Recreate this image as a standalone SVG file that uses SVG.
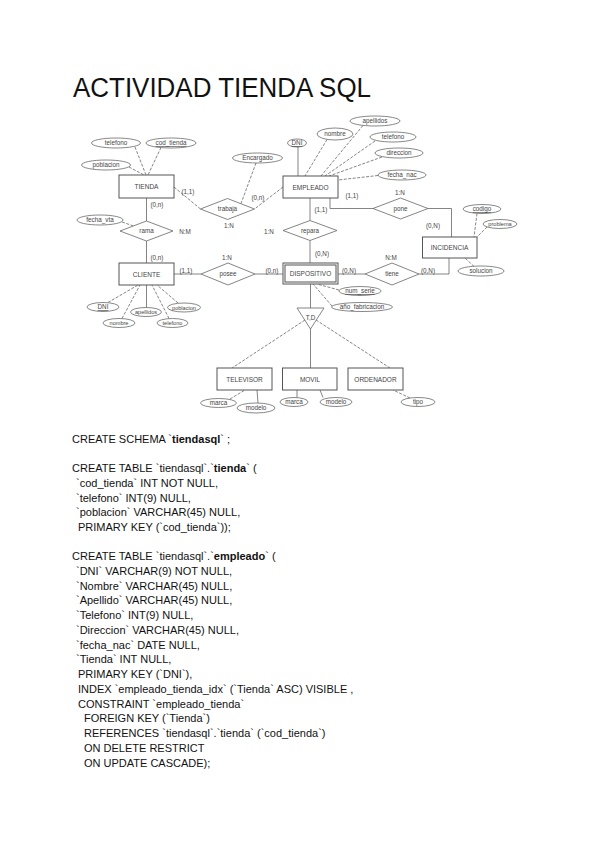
<svg xmlns="http://www.w3.org/2000/svg" width="600" height="848" viewBox="0 0 600 848">
<style>
.ent{fill:#fff;stroke:#555;stroke-width:1}
.rel{fill:#fff;stroke:#666;stroke-width:0.8}
.att{fill:#fff;stroke:#555;stroke-width:0.7}
.ln{stroke:#666;stroke-width:0.8;fill:none}
.dl{stroke-dasharray:3 1.5}
.t{font-family:"Liberation Sans",Arial,sans-serif;font-size:6.3px;fill:#444;text-anchor:middle}
.e{font-size:6.5px}
.s{font-size:5.6px}
.u{text-decoration:underline}
.sql{font-family:"Liberation Sans",Arial,sans-serif;font-size:11px;fill:#111}
.b{font-weight:bold}
</style>
<rect width="600" height="848" fill="#fff"/>
<text x="73" y="97" font-family="'Liberation Sans',Arial,sans-serif" font-size="27" fill="#111" textLength="298" lengthAdjust="spacingAndGlyphs">ACTIVIDAD TIENDA SQL</text>

<g id="connectors">
<line class="ln dl" x1="174" y1="187" x2="200.5" y2="209"/>
<line class="ln dl" x1="283" y1="187" x2="254.5" y2="209"/>
<line class="ln dl" x1="256" y1="163" x2="241" y2="203.5"/>
<line class="ln" x1="146.5" y1="198" x2="146.5" y2="221"/>
<line class="ln dl" x1="122" y1="222" x2="133.5" y2="226"/>
<line class="ln" x1="146.5" y1="241" x2="146.5" y2="263"/>
<line class="ln" x1="174" y1="274" x2="201" y2="274"/>
<line class="ln" x1="255" y1="274" x2="283" y2="274"/>
<line class="ln" x1="310" y1="198" x2="310" y2="220.5"/>
<line class="ln" x1="310" y1="240.5" x2="310" y2="263"/>
<polyline class="ln" points="330,198 330,208.5 373,208.5"/>
<polyline class="ln" points="428,208.5 451.5,208.5 451.5,237"/>
<line class="ln" x1="338" y1="274" x2="365" y2="274"/>
<polyline class="ln" points="419,274 449,274 449,258"/>
<line class="ln" x1="310.5" y1="284" x2="310.5" y2="308"/>
<line class="ln dl" x1="305" y1="320" x2="232" y2="368"/>
<line class="ln" x1="310.5" y1="329" x2="310.5" y2="368"/>
<line class="ln dl" x1="316" y1="320" x2="390" y2="368"/>
<line class="ln dl" x1="135" y1="147" x2="146" y2="175"/>
<line class="ln dl" x1="161" y1="147.5" x2="148" y2="175"/>
<line class="ln dl" x1="129" y1="167" x2="144" y2="175"/>
<line class="ln" x1="298" y1="147" x2="298" y2="176"/>
<line class="ln dl" x1="327" y1="139.5" x2="305" y2="176"/>
<line class="ln dl" x1="363" y1="125.5" x2="321" y2="176"/>
<line class="ln dl" x1="375" y1="141" x2="325" y2="176"/>
<line class="ln dl" x1="382" y1="157" x2="329" y2="176"/>
<line class="ln dl" x1="378" y1="175.5" x2="338" y2="180"/>
<line class="ln dl" x1="477" y1="213.5" x2="474" y2="237"/>
<line class="ln dl" x1="487" y1="227" x2="477" y2="237"/>
<line class="ln dl" x1="474" y1="266.5" x2="465" y2="258"/>
<line class="ln dl" x1="108" y1="302.5" x2="138" y2="285"/>
<line class="ln dl" x1="122" y1="318.5" x2="140" y2="285"/>
<line class="ln" x1="146.5" y1="307.5" x2="146.5" y2="285"/>
<line class="ln dl" x1="169" y1="318.5" x2="152" y2="285"/>
<line class="ln dl" x1="178" y1="303" x2="157" y2="285"/>
<line class="ln dl" x1="339" y1="290" x2="317" y2="284"/>
<line class="ln dl" x1="332" y1="306" x2="313" y2="284"/>
<line class="ln dl" x1="230" y1="399" x2="245" y2="390"/>
<line class="ln" x1="258" y1="403" x2="257" y2="390"/>
<line class="ln" x1="297" y1="397.5" x2="297" y2="390"/>
<line class="ln" x1="323" y1="397.5" x2="320" y2="390"/>
<line class="ln dl" x1="410" y1="398" x2="393" y2="390"/>
</g>

<g id="cardinalities" class="t">
<text x="188" y="194">(1,1)</text>
<text x="258" y="200">(0,n)</text>
<text x="229" y="228">1:N</text>
<text x="157" y="207">(0,n)</text>
<text x="185" y="234">N:M</text>
<text x="157" y="260">(0,n)</text>
<text x="227" y="260">1:N</text>
<text x="186" y="273">(1,1)</text>
<text x="272" y="273">(0,n)</text>
<text x="352" y="198">(1,1)</text>
<text x="321" y="212">(1,1)</text>
<text x="269" y="234">1:N</text>
<text x="322" y="256">(0,N)</text>
<text x="400" y="195">1:N</text>
<text x="433" y="228">(0,N)</text>
<text x="391" y="260">N:M</text>
<text x="349" y="273">(0,N)</text>
<text x="428" y="273">(0,N)</text>
</g>

<g id="tienda"><rect class="ent" x="119" y="175" width="55" height="23"/><text class="t e" x="146.5" y="189">TIENDA</text></g>
<g id="tienda-telefono"><ellipse class="att" cx="116" cy="143" rx="24.5" ry="5"/><text class="t" x="116" y="145.2">telefono</text></g>
<g id="tienda-cod_tienda"><ellipse class="att" cx="171" cy="143" rx="25" ry="5"/><text class="t u" x="171" y="145.2">cod_tienda</text></g>
<g id="tienda-poblacion"><ellipse class="att" cx="106" cy="165" rx="24.5" ry="5"/><text class="t" x="106" y="167.2">poblacion</text></g>

<g id="trabaja"><polygon class="rel" points="200.5,209 227.5,198.5 254.5,209 227.5,219.5"/><text class="t" x="227.5" y="211.2">trabaja</text></g>
<g id="encargado"><ellipse class="att" cx="257.5" cy="158" rx="25" ry="5"/><text class="t" x="257.5" y="160.2">Encargado</text></g>

<g id="rama"><polygon class="rel" points="120,231 146.5,221 173,231 146.5,241"/><text class="t" x="146.5" y="233.2">rama</text></g>
<g id="fecha_vta"><ellipse class="att" cx="100" cy="220" rx="23" ry="5"/><text class="t" x="100" y="222.2">fecha_vta</text></g>

<g id="empleado"><rect class="ent" x="283" y="176" width="55" height="22"/><text class="t e" x="310.5" y="189.5">EMPLEADO</text></g>
<g id="empleado-dni"><ellipse class="att" cx="297" cy="143" rx="9.5" ry="4"/><text class="t u" x="297" y="145.2">DNI</text></g>
<g id="empleado-nombre"><ellipse class="att" cx="335" cy="134" rx="18" ry="6"/><text class="t" x="335" y="136.2">nombre</text></g>
<g id="empleado-apellidos"><ellipse class="att" cx="375" cy="121" rx="25" ry="5"/><text class="t" x="375" y="123.2">apellidos</text></g>
<g id="empleado-telefono"><ellipse class="att" cx="393" cy="137" rx="23" ry="5"/><text class="t" x="393" y="139.2">telefono</text></g>
<g id="empleado-direccion"><ellipse class="att" cx="399" cy="153" rx="24" ry="5"/><text class="t" x="399" y="155.2">direccion</text></g>
<g id="empleado-fecha_nac"><ellipse class="att" cx="402" cy="175" rx="24" ry="5"/><text class="t" x="402" y="177.2">fecha_nac</text></g>

<g id="pone"><polygon class="rel" points="373,208.5 400.5,198 428,208.5 400.5,219"/><text class="t" x="400.5" y="210.7">pone</text></g>
<g id="repara"><polygon class="rel" points="283,230.5 310,220.5 337,230.5 310,240.5"/><text class="t" x="310" y="232.7">repara</text></g>

<g id="incidencia"><rect class="ent" x="422.5" y="237" width="54.5" height="21"/><text class="t e" x="449.5" y="249.5">INCIDENCIA</text></g>
<g id="incidencia-codigo"><ellipse class="att" cx="482" cy="209" rx="19" ry="4.5"/><text class="t u" x="482" y="211.2">codigo</text></g>
<g id="incidencia-problema"><ellipse class="att" cx="500" cy="224" rx="17" ry="4.5"/><text class="t s" x="500" y="226">problema</text></g>
<g id="incidencia-solucion"><ellipse class="att" cx="481" cy="271" rx="23" ry="5"/><text class="t" x="481" y="273.2">solucion</text></g>

<g id="cliente"><rect class="ent" x="119" y="263" width="55" height="22"/><text class="t e" x="146.5" y="276.5">CLIENTE</text></g>
<g id="cliente-dni"><ellipse class="att" cx="103" cy="307" rx="16" ry="4.5"/><text class="t u" x="103" y="309.2">DNI</text></g>
<g id="cliente-nombre"><ellipse class="att" cx="119" cy="323" rx="16" ry="4.5"/><text class="t s" x="119" y="325">nombre</text></g>
<g id="cliente-apellidos"><ellipse class="att" cx="146" cy="312" rx="15.5" ry="4.5"/><text class="t s" x="146" y="314">apellidos</text></g>
<g id="cliente-telefono"><ellipse class="att" cx="172.5" cy="323" rx="15.5" ry="4.5"/><text class="t s" x="172.5" y="325">telefono</text></g>
<g id="cliente-poblacion"><ellipse class="att" cx="184" cy="307.5" rx="16.5" ry="4.5"/><text class="t s" x="184" y="309.5">poblacion</text></g>

<g id="posee"><polygon class="rel" points="201,274 228,263 255,274 228,285"/><text class="t" x="228" y="276.2">posee</text></g>
<g id="tiene"><polygon class="rel" points="365,274 392,263 419,274 392,285"/><text class="t" x="392" y="276.2">tiene</text></g>

<g id="dispositivo"><rect class="ent" x="283" y="263" width="55" height="21"/><rect class="ent" x="285" y="265" width="51" height="17"/><text class="t e" x="310.5" y="276">DISPOSITIVO</text></g>
<g id="dispositivo-num_serie"><ellipse class="att" cx="360" cy="291" rx="21" ry="4.5"/><text class="t u" x="360" y="293.2">num_serie</text></g>
<g id="dispositivo-ano"><ellipse class="att" cx="362" cy="307" rx="30.5" ry="4.5"/><text class="t" x="362" y="309.2">año_fabricacion</text></g>

<g id="td"><polygon class="rel" points="297,308 324,308 310.5,329"/><text class="t" x="310.5" y="320">T,D</text></g>

<g id="televisor"><rect class="ent" x="217" y="368" width="55" height="22"/><text class="t e" x="244.5" y="381.5">TELEVISOR</text></g>
<g id="televisor-marca"><ellipse class="att" cx="218.5" cy="403" rx="18" ry="4.5"/><text class="t" x="218.5" y="405.2">marca</text></g>
<g id="televisor-modelo"><ellipse class="att" cx="256" cy="408" rx="19" ry="5"/><text class="t" x="256" y="410.2">modelo</text></g>
<g id="movil"><rect class="ent" x="282.5" y="368" width="54.5" height="22"/><text class="t e" x="310" y="381.5">MOVIL</text></g>
<g id="movil-marca"><ellipse class="att" cx="294" cy="402" rx="14" ry="4.5"/><text class="t" x="294" y="404.2">marca</text></g>
<g id="movil-modelo"><ellipse class="att" cx="336" cy="402" rx="16" ry="4.5"/><text class="t" x="336" y="404.2">modelo</text></g>
<g id="ordenador"><rect class="ent" x="348" y="368" width="55" height="22"/><text class="t e" x="375.5" y="381.5">ORDENADOR</text></g>
<g id="ordenador-tipo"><ellipse class="att" cx="418" cy="402" rx="17" ry="4.5"/><text class="t" x="418" y="404.2">tipo</text></g>

<g id="sql" class="sql">
<text x="72" y="443">CREATE SCHEMA `<tspan class="b">tiendasql</tspan>` ;</text>
<text x="72" y="472">CREATE TABLE `tiendasql`.`<tspan class="b">tienda</tspan>` (</text>
<text x="76" y="486.75">`cod_tienda` INT NOT NULL,</text>
<text x="76" y="501.5">`telefono` INT(9) NULL,</text>
<text x="76" y="516.25">`poblacion` VARCHAR(45) NULL,</text>
<text x="78" y="531">PRIMARY KEY (`cod_tienda`));</text>
<text x="72" y="560">CREATE TABLE `tiendasql`.`<tspan class="b">empleado</tspan>` (</text>
<text x="76" y="574.75">`DNI` VARCHAR(9) NOT NULL,</text>
<text x="76" y="589.5">`Nombre` VARCHAR(45) NULL,</text>
<text x="76" y="604.25">`Apellido` VARCHAR(45) NULL,</text>
<text x="76" y="619">`Telefono` INT(9) NULL,</text>
<text x="76" y="633.75">`Direccion` VARCHAR(45) NULL,</text>
<text x="76" y="648.5">`fecha_nac` DATE NULL,</text>
<text x="76" y="663.25">`Tienda` INT NULL,</text>
<text x="78" y="678">PRIMARY KEY (`DNI`),</text>
<text x="78" y="692.75">INDEX `empleado_tienda_idx` (`Tienda` ASC) VISIBLE ,</text>
<text x="78" y="707.5">CONSTRAINT `empleado_tienda`</text>
<text x="84" y="722.25">FOREIGN KEY (`Tienda`)</text>
<text x="84" y="737">REFERENCES `tiendasql`.`tienda` (`cod_tienda`)</text>
<text x="84" y="751.75">ON DELETE RESTRICT</text>
<text x="84" y="766.5">ON UPDATE CASCADE);</text>
</g>
</svg>
